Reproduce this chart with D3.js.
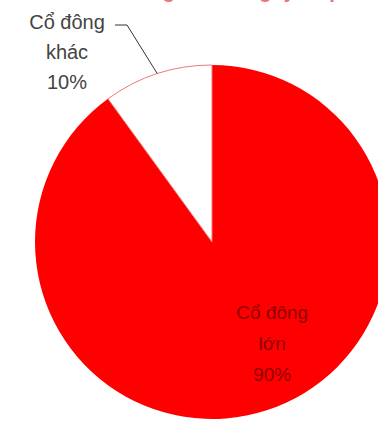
<!DOCTYPE html>
<html>
<head>
<meta charset="utf-8">
<script src="https://cdn.jsdelivr.net/npm/d3@7"></script>
<style>
  html, body { margin: 0; padding: 0; background: #fff; }
  svg { display: block; }
</style>
</head>
<body>
<svg id="chart" width="378" height="421"></svg>
<script>
const title = "Cơ cấu cổ đông của Công ty cổ phần";
const categories = ["Cổ đông lớn", "Cổ đông khác"];
const values = [90, 10];
const colors = ["#ff0000", "#ffffff"];

const svg = d3.select("#chart");
const cx = 212, cy = 242, R = 177;
const font = "Liberation Sans, Arial, sans-serif";

// title (cut off at the top edge, as in the reference)
svg.append("text")
  .attr("x", 200).attr("y", -2)
  .attr("text-anchor", "middle")
  .attr("font-family", font)
  .attr("font-size", 20).attr("font-weight", "bold")
  .attr("fill", "#f07080")
  .text(title);

const data = categories.map((c, i) => ({ name: c, value: values[i], color: colors[i] }));

const pie = d3.pie().sort(null).value(d => d.value).startAngle(0).endAngle(2 * Math.PI);
const arcs = pie(data);
const arc = d3.arc().innerRadius(0).outerRadius(R);

const g = svg.append("g").attr("transform", `translate(${cx},${cy})`);
g.selectAll("path.slice")
  .data(arcs)
  .join("path")
  .attr("class", "slice")
  .attr("d", arc)
  .attr("fill", d => d.data.color)
  .attr("stroke", d => d.index === 1 ? "#e87a7a" : "none")
  .attr("stroke-width", 1);

// label for big slice (inside)
const big = arcs[0];
const bigAngle = big.startAngle + (big.endAngle - big.startAngle) * 0.459;
const bigR = 116;
const bx = cx + bigR * Math.sin(bigAngle);
const by = cy - bigR * Math.cos(bigAngle);
const bigLines = ["Cổ đông", "lớn", values[0] + "%"];
svg.append("text")
  .attr("text-anchor", "middle")
  .attr("font-family", font).attr("font-size", 19)
  .attr("fill", "#900000")
  .selectAll("tspan").data(bigLines).join("tspan")
  .attr("x", bx)
  .attr("y", (d, i) => by - 22 + i * 31)
  .text(d => d);

// label for small slice (outside with leader line)
const small = arcs[1];
const mid = (small.startAngle + small.endAngle) / 2;
const px = cx + R * Math.sin(mid);
const py = cy - R * Math.cos(mid);
const lx = 67, ly0 = 29;
svg.append("path")
  .attr("d", `M${px},${py} L127,25 L115,25`)
  .attr("fill", "none")
  .attr("stroke", "#333")
  .attr("stroke-width", 1);

const smallLines = ["Cổ đông", "khác", values[1] + "%"];
svg.append("text")
  .attr("text-anchor", "middle")
  .attr("font-family", font).attr("font-size", 20)
  .attr("fill", "#444")
  .selectAll("tspan").data(smallLines).join("tspan")
  .attr("x", lx)
  .attr("y", (d, i) => ly0 + i * 30)
  .text(d => d);
</script>
</body>
</html>
